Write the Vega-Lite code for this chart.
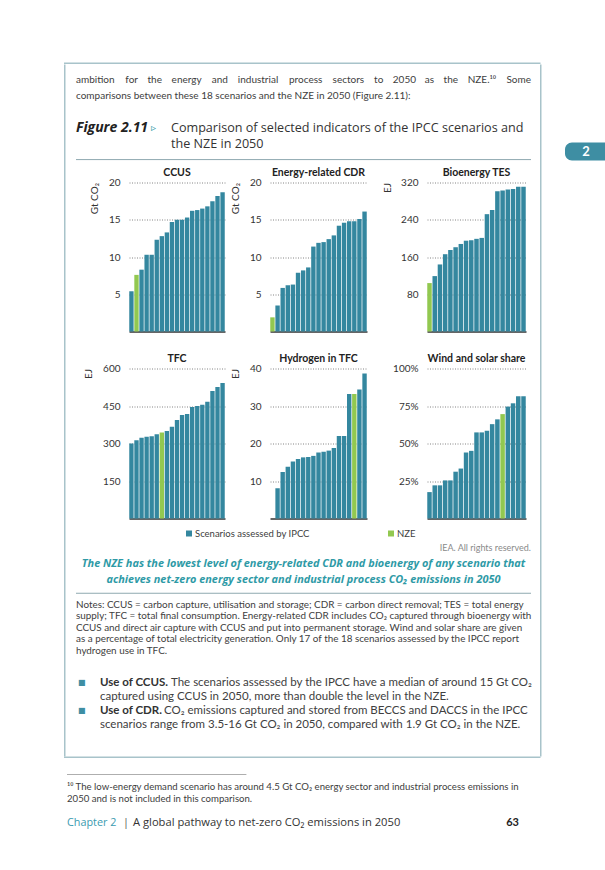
{
"$schema": "https://vega.github.io/schema/vega-lite/v6.json",
"padding": {"left": 64, "top": 62.5, "right": 0, "bottom": 0},
"autosize": {"type": "pad"},
"background": "white",
"spacing": 0,
"config": {
  "view": {"stroke": null},
  "text": {"font": "Lato", "align": "left", "baseline": "middle", "color": "#404040"},
  "title": {"font": "Lato", "fontSize": 10.5, "fontWeight": "bold", "color": "#222222", "offset": -1, "anchor": "middle"},
  "axis": {"labelFont": "Lato", "labelFontSize": 10, "labelColor": "#333333", "titleFont": "Lato", "titleFontSize": 10, "titleFontWeight": "normal", "titleColor": "#333333"},
  "axisY": {"grid": true, "gridDash": [1, 1.5], "gridColor": "#666666", "gridWidth": 0.8, "domain": false, "ticks": false, "labelPadding": 9, "titleAnchor": "end", "titlePadding": 9},
  "axisX": {"grid": false, "domainColor": "#333333", "domainWidth": 1.5}
},
"datasets": {
  "bars": [
    {"p":"CCUS","r":1,"v":5.4,"s":"Scenarios assessed by IPCC"},{"p":"CCUS","r":2,"v":7.6,"s":"NZE"},{"p":"CCUS","r":3,"v":8.3,"s":"Scenarios assessed by IPCC"},{"p":"CCUS","r":4,"v":10.3,"s":"Scenarios assessed by IPCC"},{"p":"CCUS","r":5,"v":10.3,"s":"Scenarios assessed by IPCC"},{"p":"CCUS","r":6,"v":12.3,"s":"Scenarios assessed by IPCC"},{"p":"CCUS","r":7,"v":12.8,"s":"Scenarios assessed by IPCC"},{"p":"CCUS","r":8,"v":13.3,"s":"Scenarios assessed by IPCC"},{"p":"CCUS","r":9,"v":14.7,"s":"Scenarios assessed by IPCC"},{"p":"CCUS","r":10,"v":15.0,"s":"Scenarios assessed by IPCC"},{"p":"CCUS","r":11,"v":15.0,"s":"Scenarios assessed by IPCC"},{"p":"CCUS","r":12,"v":15.3,"s":"Scenarios assessed by IPCC"},{"p":"CCUS","r":13,"v":16.2,"s":"Scenarios assessed by IPCC"},{"p":"CCUS","r":14,"v":16.3,"s":"Scenarios assessed by IPCC"},{"p":"CCUS","r":15,"v":16.5,"s":"Scenarios assessed by IPCC"},{"p":"CCUS","r":16,"v":16.8,"s":"Scenarios assessed by IPCC"},{"p":"CCUS","r":17,"v":17.5,"s":"Scenarios assessed by IPCC"},{"p":"CCUS","r":18,"v":18.2,"s":"Scenarios assessed by IPCC"},{"p":"CCUS","r":19,"v":18.7,"s":"Scenarios assessed by IPCC"},
    {"p":"CDR","r":1,"v":1.9,"s":"NZE"},{"p":"CDR","r":2,"v":3.5,"s":"Scenarios assessed by IPCC"},{"p":"CDR","r":3,"v":5.85,"s":"Scenarios assessed by IPCC"},{"p":"CDR","r":4,"v":6.2,"s":"Scenarios assessed by IPCC"},{"p":"CDR","r":5,"v":6.3,"s":"Scenarios assessed by IPCC"},{"p":"CDR","r":6,"v":7.9,"s":"Scenarios assessed by IPCC"},{"p":"CDR","r":7,"v":8.2,"s":"Scenarios assessed by IPCC"},{"p":"CDR","r":8,"v":8.6,"s":"Scenarios assessed by IPCC"},{"p":"CDR","r":9,"v":11.4,"s":"Scenarios assessed by IPCC"},{"p":"CDR","r":10,"v":11.9,"s":"Scenarios assessed by IPCC"},{"p":"CDR","r":11,"v":12.0,"s":"Scenarios assessed by IPCC"},{"p":"CDR","r":12,"v":12.4,"s":"Scenarios assessed by IPCC"},{"p":"CDR","r":13,"v":12.9,"s":"Scenarios assessed by IPCC"},{"p":"CDR","r":14,"v":14.2,"s":"Scenarios assessed by IPCC"},{"p":"CDR","r":15,"v":14.6,"s":"Scenarios assessed by IPCC"},{"p":"CDR","r":16,"v":14.8,"s":"Scenarios assessed by IPCC"},{"p":"CDR","r":17,"v":14.8,"s":"Scenarios assessed by IPCC"},{"p":"CDR","r":18,"v":15.1,"s":"Scenarios assessed by IPCC"},{"p":"CDR","r":19,"v":16.1,"s":"Scenarios assessed by IPCC"},
    {"p":"BIO","r":1,"v":104,"s":"NZE"},{"p":"BIO","r":2,"v":119,"s":"Scenarios assessed by IPCC"},{"p":"BIO","r":3,"v":144,"s":"Scenarios assessed by IPCC"},{"p":"BIO","r":4,"v":166,"s":"Scenarios assessed by IPCC"},{"p":"BIO","r":5,"v":175,"s":"Scenarios assessed by IPCC"},{"p":"BIO","r":6,"v":181,"s":"Scenarios assessed by IPCC"},{"p":"BIO","r":7,"v":188,"s":"Scenarios assessed by IPCC"},{"p":"BIO","r":8,"v":195,"s":"Scenarios assessed by IPCC"},{"p":"BIO","r":9,"v":196,"s":"Scenarios assessed by IPCC"},{"p":"BIO","r":10,"v":199,"s":"Scenarios assessed by IPCC"},{"p":"BIO","r":11,"v":201,"s":"Scenarios assessed by IPCC"},{"p":"BIO","r":12,"v":252,"s":"Scenarios assessed by IPCC"},{"p":"BIO","r":13,"v":261,"s":"Scenarios assessed by IPCC"},{"p":"BIO","r":14,"v":301,"s":"Scenarios assessed by IPCC"},{"p":"BIO","r":15,"v":303,"s":"Scenarios assessed by IPCC"},{"p":"BIO","r":16,"v":305,"s":"Scenarios assessed by IPCC"},{"p":"BIO","r":17,"v":306,"s":"Scenarios assessed by IPCC"},{"p":"BIO","r":18,"v":311,"s":"Scenarios assessed by IPCC"},{"p":"BIO","r":19,"v":311,"s":"Scenarios assessed by IPCC"},
    {"p":"TFC","r":1,"v":300,"s":"Scenarios assessed by IPCC"},{"p":"TFC","r":2,"v":313,"s":"Scenarios assessed by IPCC"},{"p":"TFC","r":3,"v":323,"s":"Scenarios assessed by IPCC"},{"p":"TFC","r":4,"v":327,"s":"Scenarios assessed by IPCC"},{"p":"TFC","r":5,"v":329,"s":"Scenarios assessed by IPCC"},{"p":"TFC","r":6,"v":337,"s":"Scenarios assessed by IPCC"},{"p":"TFC","r":7,"v":344,"s":"NZE"},{"p":"TFC","r":8,"v":350,"s":"Scenarios assessed by IPCC"},{"p":"TFC","r":9,"v":367,"s":"Scenarios assessed by IPCC"},{"p":"TFC","r":10,"v":394,"s":"Scenarios assessed by IPCC"},{"p":"TFC","r":11,"v":414,"s":"Scenarios assessed by IPCC"},{"p":"TFC","r":12,"v":418,"s":"Scenarios assessed by IPCC"},{"p":"TFC","r":13,"v":446,"s":"Scenarios assessed by IPCC"},{"p":"TFC","r":14,"v":450,"s":"Scenarios assessed by IPCC"},{"p":"TFC","r":15,"v":455,"s":"Scenarios assessed by IPCC"},{"p":"TFC","r":16,"v":467,"s":"Scenarios assessed by IPCC"},{"p":"TFC","r":17,"v":510,"s":"Scenarios assessed by IPCC"},{"p":"TFC","r":18,"v":526,"s":"Scenarios assessed by IPCC"},{"p":"TFC","r":19,"v":542,"s":"Scenarios assessed by IPCC"},
    {"p":"H2","r":1,"v":null,"s":"Scenarios assessed by IPCC"},{"p":"H2","r":2,"v":8.1,"s":"Scenarios assessed by IPCC"},{"p":"H2","r":3,"v":12.4,"s":"Scenarios assessed by IPCC"},{"p":"H2","r":4,"v":13.8,"s":"Scenarios assessed by IPCC"},{"p":"H2","r":5,"v":15.2,"s":"Scenarios assessed by IPCC"},{"p":"H2","r":6,"v":15.9,"s":"Scenarios assessed by IPCC"},{"p":"H2","r":7,"v":16.3,"s":"Scenarios assessed by IPCC"},{"p":"H2","r":8,"v":16.4,"s":"Scenarios assessed by IPCC"},{"p":"H2","r":9,"v":16.7,"s":"Scenarios assessed by IPCC"},{"p":"H2","r":10,"v":17.6,"s":"Scenarios assessed by IPCC"},{"p":"H2","r":11,"v":17.8,"s":"Scenarios assessed by IPCC"},{"p":"H2","r":12,"v":18.1,"s":"Scenarios assessed by IPCC"},{"p":"H2","r":13,"v":18.8,"s":"Scenarios assessed by IPCC"},{"p":"H2","r":14,"v":22.0,"s":"Scenarios assessed by IPCC"},{"p":"H2","r":15,"v":22.0,"s":"Scenarios assessed by IPCC"},{"p":"H2","r":16,"v":33.2,"s":"Scenarios assessed by IPCC"},{"p":"H2","r":17,"v":33.2,"s":"NZE"},{"p":"H2","r":18,"v":34.4,"s":"Scenarios assessed by IPCC"},{"p":"H2","r":19,"v":38.7,"s":"Scenarios assessed by IPCC"},
    {"p":"WS","r":1,"v":17.6,"s":"Scenarios assessed by IPCC"},{"p":"WS","r":2,"v":22.1,"s":"Scenarios assessed by IPCC"},{"p":"WS","r":3,"v":22.1,"s":"Scenarios assessed by IPCC"},{"p":"WS","r":4,"v":25.4,"s":"Scenarios assessed by IPCC"},{"p":"WS","r":5,"v":25.4,"s":"Scenarios assessed by IPCC"},{"p":"WS","r":6,"v":31.2,"s":"Scenarios assessed by IPCC"},{"p":"WS","r":7,"v":33.3,"s":"Scenarios assessed by IPCC"},{"p":"WS","r":8,"v":44.0,"s":"Scenarios assessed by IPCC"},{"p":"WS","r":9,"v":45.1,"s":"Scenarios assessed by IPCC"},{"p":"WS","r":10,"v":57.4,"s":"Scenarios assessed by IPCC"},{"p":"WS","r":11,"v":57.4,"s":"Scenarios assessed by IPCC"},{"p":"WS","r":12,"v":58.5,"s":"Scenarios assessed by IPCC"},{"p":"WS","r":13,"v":62.9,"s":"Scenarios assessed by IPCC"},{"p":"WS","r":14,"v":66.1,"s":"Scenarios assessed by IPCC"},{"p":"WS","r":15,"v":69.6,"s":"NZE"},{"p":"WS","r":16,"v":74.6,"s":"Scenarios assessed by IPCC"},{"p":"WS","r":17,"v":76.8,"s":"Scenarios assessed by IPCC"},{"p":"WS","r":18,"v":81.5,"s":"Scenarios assessed by IPCC"},{"p":"WS","r":19,"v":81.5,"s":"Scenarios assessed by IPCC"}
  ]
},
"vconcat": [
  {"width": 476.5, "height": 1.5, "data": {"values": []}, "mark": "point", "view": {"fill": "#a8c3ca", "stroke": null}},
  {"hconcat": [
    {"width": 1.5, "height": 692, "data": {"values": []}, "mark": "point", "view": {"fill": "#a8c3ca", "stroke": null}},
    {"width": 9.5, "height": 1, "data": {"values": []}, "mark": "point"},
    {"vconcat": [
      {"width": 1, "height": 8, "data": {"values": []}, "mark": "point"},
      {"width": 455, "height": 95,
       "data": {"values": [
         {"line":"p1","role":"w1","text":"ambition"},
         {"line":"p1","role":"w2","text":"for"},
         {"line":"p1","role":"w3","text":"the"},
         {"line":"p1","role":"w4","text":"energy"},
         {"line":"p1","role":"w5","text":"and"},
         {"line":"p1","role":"w6","text":"industrial"},
         {"line":"p1","role":"w7","text":"process"},
         {"line":"p1","role":"w8","text":"sectors"},
         {"line":"p1","role":"w9","text":"to"},
         {"line":"p1","role":"w10","text":"2050"},
         {"line":"p1","role":"w11","text":"as"},
         {"line":"p1","role":"w12","text":"the"},
         {"line":"p1","role":"w13","text":"NZE.¹⁰"},
         {"line":"p1","role":"w14","text":"Some"},
         {"line":"p2","role":"w1","text":"comparisons between these 18 scenarios and the NZE in 2050 (Figure 2.11):"},
         {"line":"f1","role":"label","text":"Figure 2.11"},
         {"line":"f1","role":"marker","text":"▹"},
         {"line":"f1","role":"title","text":"Comparison of selected indicators of the IPCC scenarios and"},
         {"line":"f2","role":"title","text":"the NZE in 2050"},
         {"line":"sep","role":"rule"}
       ]},
       "encoding": {
         "y": {"field":"line","type":"nominal","bandPosition":0.5,"scale":{"type":"band","domain":["p1","p2","g1","f1","f2","sep"],"paddingInner":0,"paddingOuter":0},"axis":null},
         "x": {"datum":0,"type":"quantitative","scale":{"domain":[0,1],"nice":false,"zero":false},"axis":null}
       },
       "layer": [
         {"transform":[{"filter":"datum.role=='w1'"}],"mark":{"type":"text","fontSize":10,"color":"#404040"},"encoding":{"text":{"field":"text"}}},
         {"transform":[{"filter":"datum.role=='w2'"}],"mark":{"type":"text","fontSize":10,"dx":49.3,"color":"#404040"},"encoding":{"text":{"field":"text"}}},
         {"transform":[{"filter":"datum.role=='w3'"}],"mark":{"type":"text","fontSize":10,"dx":71.5,"color":"#404040"},"encoding":{"text":{"field":"text"}}},
         {"transform":[{"filter":"datum.role=='w4'"}],"mark":{"type":"text","fontSize":10,"dx":95.6,"color":"#404040"},"encoding":{"text":{"field":"text"}}},
         {"transform":[{"filter":"datum.role=='w5'"}],"mark":{"type":"text","fontSize":10,"dx":135.8,"color":"#404040"},"encoding":{"text":{"field":"text"}}},
         {"transform":[{"filter":"datum.role=='w6'"}],"mark":{"type":"text","fontSize":10,"dx":161.8,"color":"#404040"},"encoding":{"text":{"field":"text"}}},
         {"transform":[{"filter":"datum.role=='w7'"}],"mark":{"type":"text","fontSize":10,"dx":213,"color":"#404040"},"encoding":{"text":{"field":"text"}}},
         {"transform":[{"filter":"datum.role=='w8'"}],"mark":{"type":"text","fontSize":10,"dx":256.6,"color":"#404040"},"encoding":{"text":{"field":"text"}}},
         {"transform":[{"filter":"datum.role=='w9'"}],"mark":{"type":"text","fontSize":10,"dx":298.1,"color":"#404040"},"encoding":{"text":{"field":"text"}}},
         {"transform":[{"filter":"datum.role=='w10'"}],"mark":{"type":"text","fontSize":10,"dx":316.8,"color":"#404040"},"encoding":{"text":{"field":"text"}}},
         {"transform":[{"filter":"datum.role=='w11'"}],"mark":{"type":"text","fontSize":10,"dx":348.8,"color":"#404040"},"encoding":{"text":{"field":"text"}}},
         {"transform":[{"filter":"datum.role=='w12'"}],"mark":{"type":"text","fontSize":10,"dx":367.6,"color":"#404040"},"encoding":{"text":{"field":"text"}}},
         {"transform":[{"filter":"datum.role=='w13'"}],"mark":{"type":"text","fontSize":10,"dx":391.7,"color":"#404040"},"encoding":{"text":{"field":"text"}}},
         {"transform":[{"filter":"datum.role=='w14'"}],"mark":{"type":"text","align":"right","fontSize":10,"color":"#404040"},"encoding":{"text":{"field":"text"},"x":{"datum":1,"type":"quantitative"}}},
         {"transform":[{"filter":"datum.role=='label'"}],"mark":{"type":"text","font":"Open Sans","fontSize":14,"fontWeight":"bold","fontStyle":"italic","color":"#222222"},"encoding":{"text":{"field":"text"}}},
         {"transform":[{"filter":"datum.role=='marker'"}],"mark":{"type":"text","font":"DejaVu Sans","fontSize":10,"dx":75,"color":"#2e9aa6"},"encoding":{"text":{"field":"text"}}},
         {"transform":[{"filter":"datum.role=='title'"}],"mark":{"type":"text","font":"Open Sans","fontSize":12.6,"dx":95,"color":"#333333"},"encoding":{"text":{"field":"text"}}},
         {"transform":[{"filter":"datum.role=='rule'"}],"mark":{"type":"rule","color":"#8fa9b0","strokeWidth":1},"encoding":{"x2":{"datum":1}}}
       ]},
      {"hconcat": [
        {"width": 53, "height": 1, "data": {"values": []}, "mark": "point"},
        {"width": 96, "height": 149, "title": "CCUS", "data": {"name":"bars"}, "transform":[{"filter":"datum.p=='CCUS'"}], "mark":{"type":"bar"},
         "encoding": {
           "x": {"field":"r","type":"ordinal","scale":{"domain":[1,2,3,4,5,6,7,8,9,10,11,12,13,14,15,16,17,18,19],"paddingInner":0.14,"paddingOuter":0.05},"axis":{"labels":false,"ticks":false,"title":null}},
           "y": {"field":"v","type":"quantitative","scale":{"domain":[0,20],"nice":false},"axis":{"values":[5,10,15,20],"title":"Gt CO₂"}},
           "color": {"field":"s","type":"nominal","scale":{"domain":["Scenarios assessed by IPCC","NZE"],"range":["#34879f","#92c850"]},"legend":null}
         }},
        {"width": 45, "height": 1, "data": {"values": []}, "mark": "point"},
        {"width": 97, "height": 149, "title": "Energy-related CDR", "data": {"name":"bars"}, "transform":[{"filter":"datum.p=='CDR'"}], "mark":{"type":"bar"},
         "encoding": {
           "x": {"field":"r","type":"ordinal","scale":{"domain":[1,2,3,4,5,6,7,8,9,10,11,12,13,14,15,16,17,18,19],"paddingInner":0.14,"paddingOuter":0.05},"axis":{"labels":false,"ticks":false,"title":null}},
           "y": {"field":"v","type":"quantitative","scale":{"domain":[0,20],"nice":false},"axis":{"values":[5,10,15,20],"title":"Gt CO₂"}},
           "color": {"field":"s","type":"nominal","scale":{"domain":["Scenarios assessed by IPCC","NZE"],"range":["#34879f","#92c850"]},"legend":null}
         }},
        {"width": 60, "height": 1, "data": {"values": []}, "mark": "point"},
        {"width": 99, "height": 149, "title": "Bioenergy TES", "data": {"name":"bars"}, "transform":[{"filter":"datum.p=='BIO'"}], "mark":{"type":"bar"},
         "encoding": {
           "x": {"field":"r","type":"ordinal","scale":{"domain":[1,2,3,4,5,6,7,8,9,10,11,12,13,14,15,16,17,18,19],"paddingInner":0.14,"paddingOuter":0.05},"axis":{"labels":false,"ticks":false,"title":null}},
           "y": {"field":"v","type":"quantitative","scale":{"domain":[0,320],"nice":false},"axis":{"values":[80,160,240,320],"title":"EJ","titlePadding":8}},
           "color": {"field":"s","type":"nominal","scale":{"domain":["Scenarios assessed by IPCC","NZE"],"range":["#34879f","#92c850"]},"legend":null}
         }}
      ], "spacing": 0, "bounds": "flush"},
      {"width": 1, "height": 22, "data": {"values": []}, "mark": "point"},
      {"hconcat": [
        {"width": 53, "height": 1, "data": {"values": []}, "mark": "point"},
        {"width": 96, "height": 150, "title": "TFC", "data": {"name":"bars"}, "transform":[{"filter":"datum.p=='TFC'"}], "mark":{"type":"bar"},
         "encoding": {
           "x": {"field":"r","type":"ordinal","scale":{"domain":[1,2,3,4,5,6,7,8,9,10,11,12,13,14,15,16,17,18,19],"paddingInner":0.14,"paddingOuter":0.05},"axis":{"labels":false,"ticks":false,"title":null}},
           "y": {"field":"v","type":"quantitative","scale":{"domain":[0,600],"nice":false},"axis":{"values":[150,300,450,600],"title":"EJ","titlePadding":9}},
           "color": {"field":"s","type":"nominal","scale":{"domain":["Scenarios assessed by IPCC","NZE"],"range":["#34879f","#92c850"]},"legend":null}
         }},
        {"width": 45, "height": 1, "data": {"values": []}, "mark": "point"},
        {"width": 97, "height": 150, "title": "Hydrogen in TFC", "data": {"name":"bars"}, "transform":[{"filter":"datum.p=='H2'"}], "mark":{"type":"bar"},
         "encoding": {
           "x": {"field":"r","type":"ordinal","scale":{"domain":[1,2,3,4,5,6,7,8,9,10,11,12,13,14,15,16,17,18,19],"paddingInner":0.14,"paddingOuter":0.05},"axis":{"labels":false,"ticks":false,"title":null}},
           "y": {"field":"v","type":"quantitative","scale":{"domain":[0,40],"nice":false},"axis":{"values":[10,20,30,40],"title":"EJ","titlePadding":9}},
           "color": {"field":"s","type":"nominal","scale":{"domain":["Scenarios assessed by IPCC","NZE"],"range":["#34879f","#92c850"]},"legend":null}
         }},
        {"width": 60, "height": 1, "data": {"values": []}, "mark": "point"},
        {"width": 99, "height": 150, "title": "Wind and solar share", "data": {"name":"bars"}, "transform":[{"filter":"datum.p=='WS'"}], "mark":{"type":"bar"},
         "encoding": {
           "x": {"field":"r","type":"ordinal","scale":{"domain":[1,2,3,4,5,6,7,8,9,10,11,12,13,14,15,16,17,18,19],"paddingInner":0.14,"paddingOuter":0.05},"axis":{"labels":false,"ticks":false,"title":null}},
           "y": {"field":"v","type":"quantitative","scale":{"domain":[0,100],"nice":false},"axis":{"values":[25,50,75,100],"labelExpr":"datum.value + '%'","title":null}},
           "color": {"field":"s","type":"nominal","scale":{"domain":["Scenarios assessed by IPCC","NZE"],"range":["#34879f","#92c850"]},"legend":null}
         }}
      ], "spacing": 0, "bounds": "flush"},
      {"width": 1, "height": 9, "data": {"values": []}, "mark": "point"},
      {"hconcat": [
        {"width": 113, "height": 1, "data": {"values": []}, "mark": "point"},
        {"width": 300, "height": 12,
         "data": {"values": [{"s":"Scenarios assessed by IPCC"},{"s":"NZE"}]},
         "encoding": {"x": {"field":"s","type":"nominal","bandPosition":0,"scale":{"type":"band","domain":["Scenarios assessed by IPCC","NZE"],"paddingInner":0,"paddingOuter":0,"range":[0,404]},"axis":null}},
         "layer": [
           {"mark":{"type":"point","shape":"square","filled":true,"size":36,"opacity":1},"encoding":{"color":{"field":"s","type":"nominal","scale":{"domain":["Scenarios assessed by IPCC","NZE"],"range":["#34879f","#92c850"]},"legend":null}}},
           {"mark":{"type":"text","dx":6,"fontSize":9.5,"color":"#404040"},"encoding":{"text":{"field":"s"}}}
         ]}
      ], "spacing": 0, "bounds": "flush"},
      {"width": 455, "height": 48,
       "data": {"values": [
         {"line":"iea","role":"credit","text":"IEA. All rights reserved."},
         {"line":"c1","role":"caption","text":"The NZE has the lowest level of energy-related CDR and bioenergy of any scenario that"},
         {"line":"c2","role":"caption","text":"achieves net-zero energy sector and industrial process CO₂ emissions in 2050"}
       ]},
       "encoding": {
         "y": {"field":"line","type":"nominal","bandPosition":0.5,"scale":{"type":"band","domain":["iea","c1","c2"],"paddingInner":0,"paddingOuter":0},"axis":null},
         "x": {"datum":0,"type":"quantitative","scale":{"domain":[0,1],"nice":false,"zero":false},"axis":null}
       },
       "layer": [
         {"transform":[{"filter":"datum.role=='credit'"}],"mark":{"type":"text","align":"right","fontSize":9,"color":"#8a8a8a"},"encoding":{"text":{"field":"text"},"x":{"datum":1,"type":"quantitative"}}},
         {"transform":[{"filter":"datum.role=='caption'"}],"mark":{"type":"text","align":"center","font":"Open Sans","fontSize":10.9,"fontWeight":"bold","fontStyle":"italic","color":"#2e9aa6"},"encoding":{"text":{"field":"text"},"x":{"datum":0.5,"type":"quantitative"}}}
       ]},
      {"width": 455, "height": 69,
       "data": {"values": [
         {"line":"sep","role":"rule"},
         {"line":"n1","role":"note","text":"Notes: CCUS = carbon capture, utilisation and storage; CDR = carbon direct removal; TES = total energy"},
         {"line":"n2","role":"note","text":"supply; TFC = total final consumption. Energy-related CDR includes CO₂ captured through bioenergy with"},
         {"line":"n3","role":"note","text":"CCUS and direct air capture with CCUS and put into permanent storage. Wind and solar share are given"},
         {"line":"n4","role":"note","text":"as a percentage of total electricity generation. Only 17 of the 18 scenarios assessed by the IPCC report"},
         {"line":"n5","role":"note","text":"hydrogen use in TFC."}
       ]},
       "encoding": {
         "y": {"field":"line","type":"nominal","bandPosition":0.5,"scale":{"type":"band","domain":["sep","n1","n2","n3","n4","n5"],"paddingInner":0,"paddingOuter":0},"axis":null},
         "x": {"datum":0,"type":"quantitative","scale":{"domain":[0,1],"nice":false,"zero":false},"axis":null}
       },
       "layer": [
         {"transform":[{"filter":"datum.role=='rule'"}],"mark":{"type":"rule","color":"#8fa9b0","strokeWidth":1},"encoding":{"x2":{"datum":1}}},
         {"transform":[{"filter":"datum.role=='note'"}],"mark":{"type":"text","fontSize":9.9,"color":"#404040"},"encoding":{"text":{"field":"text"}}}
       ]},
      {"width": 1, "height": 19, "data": {"values": []}, "mark": "point"},
      {"width": 455, "height": 56,
       "data": {"values": [
         {"line":"b1a","role":"marker","text":"■"},
         {"line":"b2a","role":"marker","text":"■"},
         {"line":"b1a","role":"head","text":"Use of CCUS."},
         {"line":"b2a","role":"head","text":"Use of CDR."},
         {"line":"b1a","role":"tail1","text":"The scenarios assessed by the IPCC have a median of around 15 Gt CO₂"},
         {"line":"b2a","role":"tail2","text":"CO₂ emissions captured and stored from BECCS and DACCS in the IPCC"},
         {"line":"b1b","role":"cont","text":"captured using CCUS in 2050, more than double the level in the NZE."},
         {"line":"b2b","role":"cont","text":"scenarios range from 3.5-16 Gt CO₂ in 2050, compared with 1.9 Gt CO₂ in the NZE."}
       ]},
       "encoding": {
         "y": {"field":"line","type":"nominal","bandPosition":0.5,"scale":{"type":"band","domain":["b1a","b1b","b2a","b2b"],"paddingInner":0,"paddingOuter":0},"axis":null},
         "x": {"datum":0,"type":"quantitative","scale":{"domain":[0,1],"nice":false,"zero":false},"axis":null}
       },
       "layer": [
         {"transform":[{"filter":"datum.role=='marker'"}],"mark":{"type":"text","font":"DejaVu Sans","fontSize":8,"dx":2,"color":"#3e8ea3"},"encoding":{"text":{"field":"text"}}},
         {"transform":[{"filter":"datum.role=='head'"}],"mark":{"type":"text","fontSize":11.5,"fontWeight":"bold","dx":24,"color":"#333333"},"encoding":{"text":{"field":"text"}}},
         {"transform":[{"filter":"datum.role=='tail1'"}],"mark":{"type":"text","fontSize":11.5,"dx":95,"color":"#404040"},"encoding":{"text":{"field":"text"}}},
         {"transform":[{"filter":"datum.role=='tail2'"}],"mark":{"type":"text","fontSize":11.5,"dx":88,"color":"#404040"},"encoding":{"text":{"field":"text"}}},
         {"transform":[{"filter":"datum.role=='cont'"}],"mark":{"type":"text","fontSize":11.5,"dx":24,"color":"#404040"},"encoding":{"text":{"field":"text"}}}
       ]}
    ], "spacing": 0},
    {"width": 464, "height": 1, "data": {"values": []}, "mark": "point"},
    {"width": 1.5, "height": 692, "data": {"values": []}, "mark": "point", "view": {"fill": "#a8c3ca", "stroke": null}},
    {"width": 22.5, "height": 1, "data": {"values": []}, "mark": "point"},
    {"vconcat": [
      {"width": 42, "height": 78, "data": {"values": []}, "mark": "point"},
      {"width": 42, "height": 18, "data": {"values": [{"text":"2"}]},
       "layer": [
         {"mark":{"type":"rect","color":"#3e8ea3","cornerRadiusTopLeft":7,"cornerRadiusBottomLeft":7}},
         {"mark":{"type":"text","align":"center","color":"white","fontSize":13,"fontWeight":"bold"},"encoding":{"text":{"field":"text"}}}
       ]}
    ], "spacing": 0}
  ], "spacing": 0, "bounds": "flush"},
  {"width": 476.5, "height": 1.5, "data": {"values": []}, "mark": "point", "view": {"fill": "#a8c3ca", "stroke": null}},
  {"width": 1, "height": 9.5, "data": {"values": []}, "mark": "point"},
  {"hconcat": [
    {"width": 3, "height": 1, "data": {"values": []}, "mark": "point"},
    {"width": 460, "height": 60,
     "data": {"values": [
       {"line":"rule","role":"rule"},
       {"line":"f1","role":"foot","text":"¹⁰ The low-energy demand scenario has around 4.5 Gt CO₂ energy sector and industrial process emissions in"},
       {"line":"f2","role":"foot","text":"2050 and is not included in this comparison."},
       {"line":"ch","role":"chapter","text":"Chapter 2"},
       {"line":"ch","role":"pipe","text":"|"},
       {"line":"ch","role":"chtitle","text":"A global pathway to net-zero CO₂ emissions in 2050"},
       {"line":"ch","role":"page","text":"63"}
     ]},
     "encoding": {
       "y": {"field":"line","type":"nominal","bandPosition":0.5,"scale":{"type":"band","domain":["rule","f1","f2","gap","ch"],"paddingInner":0,"paddingOuter":0},"axis":null},
       "x": {"datum":0,"type":"quantitative","scale":{"domain":[0,1],"nice":false,"zero":false},"axis":null}
     },
     "layer": [
       {"transform":[{"filter":"datum.role=='rule'"}],"mark":{"type":"rule","color":"#999999","strokeWidth":0.8},"encoding":{"x2":{"datum":0.39}}},
       {"transform":[{"filter":"datum.role=='foot'"}],"mark":{"type":"text","fontSize":9.6,"color":"#404040"},"encoding":{"text":{"field":"text"}}},
       {"transform":[{"filter":"datum.role=='chapter'"}],"mark":{"type":"text","font":"Open Sans","fontSize":10.8,"color":"#3a9bb0"},"encoding":{"text":{"field":"text"}}},
       {"transform":[{"filter":"datum.role=='pipe'"}],"mark":{"type":"text","font":"Open Sans","fontSize":10.8,"dx":56,"color":"#555555"},"encoding":{"text":{"field":"text"}}},
       {"transform":[{"filter":"datum.role=='chtitle'"}],"mark":{"type":"text","font":"Open Sans","fontSize":11.2,"dx":66,"color":"#333333"},"encoding":{"text":{"field":"text"}}},
       {"transform":[{"filter":"datum.role=='page'"}],"mark":{"type":"text","align":"right","fontSize":11,"fontWeight":"bold","dx":-8,"color":"#222222"},"encoding":{"text":{"field":"text"},"x":{"datum":1,"type":"quantitative"}}}
     ]}
  ], "spacing": 0, "bounds": "flush"}
]
}
